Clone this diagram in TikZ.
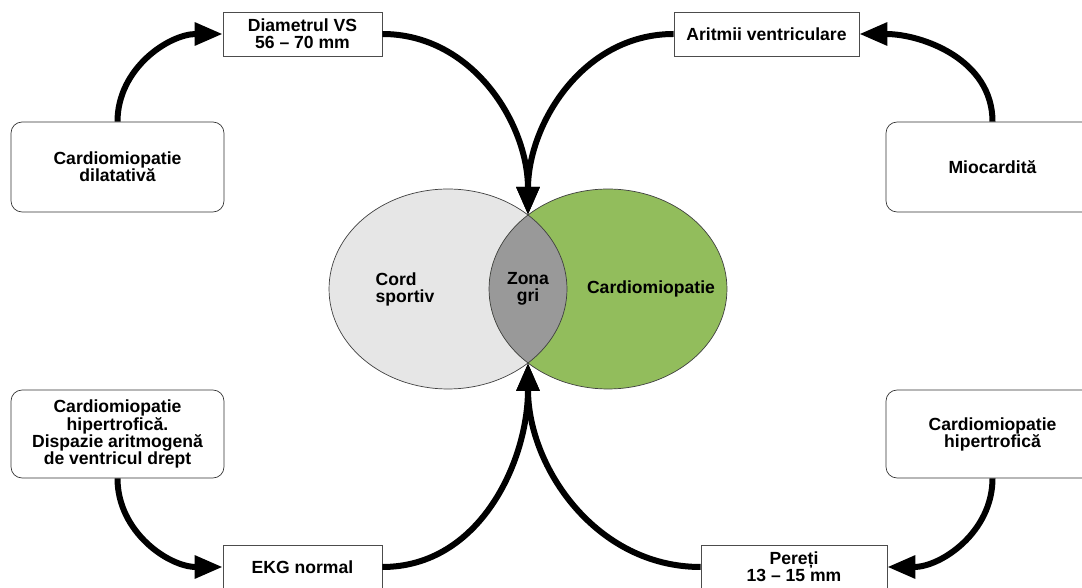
\documentclass[tikz,border=0pt]{standalone}
\usepackage{fontspec}
\setmainfont{Liberation Sans}
\usepackage{tikz}
\usetikzlibrary{arrows.meta,positioning}

\definecolor{sportgray}{RGB}{230,230,230}
\definecolor{lensgray}{RGB}{153,153,153}
\definecolor{cardgreen}{RGB}{146,189,92}

\begin{document}
\begin{tikzpicture}[x=0.02cm,y=0.02cm,
  every node/.style={font=\bfseries\fontsize{10}{9.7}\selectfont,align=center},
  box/.style={draw=black!70,thin,fill=white,minimum height=0.88cm},
  roundbox/.style={draw=black!80,thin,fill=white,rounded corners=0.22cm,minimum width=4.26cm},
  flow/.style={line width=0.12cm,-{Triangle[length=0.56cm,width=0.44cm]}}]
\useasboundingbox (0,0) rectangle (1082,588);
\clip (0,0) rectangle (1082,588);
% ellipses and the grey zone
\fill[sportgray] (448,299) ellipse (2.38cm and 2cm);
\fill[cardgreen] (608,299) ellipse (2.38cm and 2cm);
\begin{scope}
\clip (448,299) ellipse (2.38cm and 2cm);
\fill[lensgray] (608,299) ellipse (2.38cm and 2cm);
\end{scope}
\draw[black!75,thin] (448,299) ellipse (2.38cm and 2cm) (608,299) ellipse (2.38cm and 2cm);
\node[align=left] (sport) at (405,299) {Cord\\sportiv};
\node (zona) at (528,299) {Zona\\gri};
\node (cardio) at (651,299) {Cardiomiopatie};
\coordinate (meetup) at (528,373);
\coordinate (meetdown) at (528,225);
% boxes
\node[box,minimum width=3.18cm] (diam) at (302.5,554) {Diametrul VS\\56 -- 70 mm};
\node[box,minimum width=3.7cm] (arit) at (766.5,554) {Aritmii ventriculare};
\node[box,minimum width=3.18cm] (ekg) at (302.5,21) {EKG normal};
\node[box,minimum width=3.72cm] (pereti) at (794,21) {Pereți\\13 -- 15 mm};
\node[roundbox,minimum height=1.8cm] (dilat) at (117.5,421) {Cardiomiopatie\\dilatativă};
\node[roundbox,minimum height=1.76cm] (hiperst) at (117.5,154)
  {Cardiomiopatie\\hipertrofică.\\Dispazie aritmogenă\\de ventricul drept};
\node[roundbox,minimum height=1.8cm] (mio) at (992.5,421) {Miocardită};
\node[roundbox,minimum height=1.76cm] (hiperdr) at (992.5,154) {Cardiomiopatie\\hipertrofică};
% arrows
\draw[flow] (dilat.north) to[out=90,in=180] (diam.west);
\draw[flow] (diam.east) to[out=0,in=90] (meetup);
\draw[flow] (arit.west) to[out=180,in=90] (meetup);
\draw[flow] (mio.north) to[out=90,in=0] (arit.east);
\draw[flow] (hiperst.south) to[out=-90,in=180] (ekg.west);
\draw[flow] (ekg.east) to[out=0,in=-90] (meetdown);
\draw[flow] (pereti.west) to[out=180,in=-90] (meetdown);
\draw[flow] (hiperdr.south) to[out=-90,in=0] (pereti.east);
\end{tikzpicture}
\end{document}
